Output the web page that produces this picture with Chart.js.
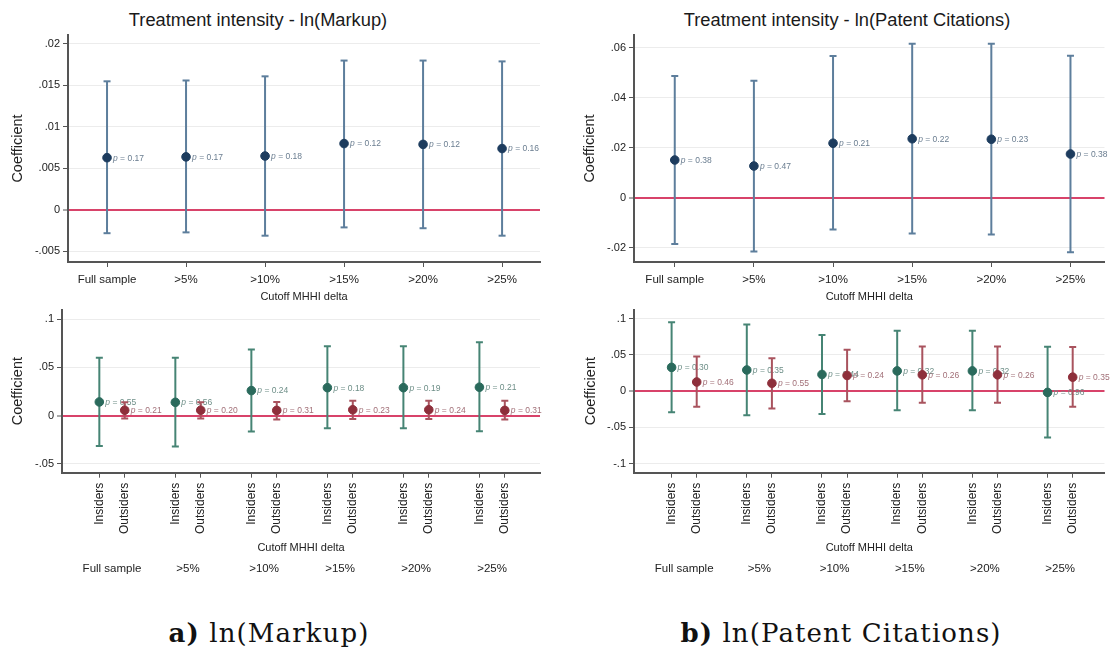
<!DOCTYPE html>
<html>
<head>
<meta charset="utf-8">
<script src="https://cdn.jsdelivr.net/npm/chart.js@4.4.1/dist/chart.umd.min.js"></script>
<style>
  body { margin: 0; background: #fff; width: 1110px; height: 651px; overflow: hidden; position: relative; font-family: "Liberation Sans", Arial, sans-serif; }
  canvas { position: absolute; }
  .titulo { position: absolute; font-size: 18.3px; color: #1a1a1a; transform: translate(-50%, -50%); white-space: nowrap; }
  .legenda { position: absolute; font-family: "DejaVu Serif", serif; font-size: 26px; color: #111; transform: translate(-50%, -50%); white-space: nowrap; letter-spacing: 1.1px; }
</style>
</head>
<body>
<div class="titulo" style="left:258px; top:20px">Treatment intensity - ln(Markup)</div>
<div class="titulo" style="left:847px; top:20px">Treatment intensity - ln(Patent Citations)</div>

<canvas id="g1" width="555" height="310" style="left:0; top:0"></canvas>
<canvas id="g2" width="555" height="310" style="left:555px; top:0"></canvas>
<canvas id="g3" width="555" height="290" style="left:0; top:300px"></canvas>
<canvas id="g4" width="555" height="290" style="left:555px; top:300px"></canvas>

<div class="legenda" style="left:269px; top:633px"><b>a)</b> ln(Markup)</div>
<div class="legenda" style="left:841px; top:633px"><b>b)</b> ln(Patent Citations)</div>

<script>
// categorias
const cutoffs = ["Full sample", ">5%", ">10%", ">15%", ">20%", ">25%"];
const grupos = ["Insiders", "Outsiders"];

// ln(Markup) - amostra toda
const markupCoef = [0.0063, 0.0064, 0.0065, 0.0080, 0.0079, 0.0074];
const markupLo   = [-0.0028, -0.0027, -0.0031, -0.0021, -0.0022, -0.0031];
const markupHi   = [0.0155, 0.0156, 0.0161, 0.0180, 0.0180, 0.0179];
const markupP    = ["0.17", "0.17", "0.18", "0.12", "0.12", "0.16"];

// ln(Patent Citations) - amostra toda
const citCoef = [0.0151, 0.0127, 0.0218, 0.0236, 0.0234, 0.0175];
const citLo   = [-0.0185, -0.0215, -0.0127, -0.0143, -0.0147, -0.0218];
const citHi   = [0.0487, 0.0468, 0.0567, 0.0616, 0.0616, 0.0568];
const citP    = ["0.38", "0.47", "0.21", "0.22", "0.23", "0.38"];

// ln(Markup) - insiders / outsiders
const mkInsCoef = [0.0142, 0.0138, 0.0260, 0.0290, 0.0290, 0.0295];
const mkInsLo   = [-0.0315, -0.0322, -0.0166, -0.0132, -0.0132, -0.0163];
const mkInsHi   = [0.0600, 0.0600, 0.0687, 0.0721, 0.0721, 0.0762];
const mkInsP    = ["0.55", "0.56", "0.24", "0.18", "0.19", "0.21"];
const mkOutCoef = [0.0056, 0.0056, 0.0054, 0.0061, 0.0061, 0.0054];
const mkOutLo   = [-0.0030, -0.0030, -0.0041, -0.0034, -0.0034, -0.0041];
const mkOutHi   = [0.0140, 0.0140, 0.0142, 0.0155, 0.0155, 0.0155];
const mkOutP    = ["0.21", "0.20", "0.31", "0.23", "0.24", "0.31"];

// ln(Patent Citations) - insiders / outsiders
const ctInsCoef = [0.0328, 0.0292, 0.0230, 0.0279, 0.0279, -0.0018];
const ctInsLo   = [-0.0293, -0.0334, -0.0316, -0.0266, -0.0266, -0.0640];
const ctInsHi   = [0.0950, 0.0919, 0.0774, 0.0833, 0.0833, 0.0612];
const ctInsP    = ["0.30", "0.35", "0.44", "0.32", "0.32", "0.96"];
const ctOutCoef = [0.0126, 0.0108, 0.0216, 0.0225, 0.0225, 0.0193];
const ctOutLo   = [-0.0216, -0.0239, -0.0140, -0.0162, -0.0162, -0.0216];
const ctOutHi   = [0.0477, 0.0455, 0.0572, 0.0617, 0.0617, 0.0608];
const ctOutP    = ["0.46", "0.55", "0.24", "0.26", "0.26", "0.35"];

// ticks do eixo y
const ticksMarkup = [-0.005, 0, 0.005, 0.01, 0.015, 0.02];
const ticksCit    = [-0.02, 0, 0.02, 0.04, 0.06];
const ticksMkGrp  = [-0.05, 0, 0.05, 0.1];
const ticksCtGrp  = [-0.1, -0.05, 0, 0.05, 0.1];

// cores
const corZero = "#d8436a";
const corGrade = "#ececec";
const corEixo = "#555";
const azul  = { ponto: "#1d3c5e", barra: "#5d7e9c", texto: "#6a7d90" };
const verde = { ponto: "#2a6a5c", barra: "#468474", texto: "#6e8f88" };
const verm  = { ponto: "#8e2f3b", barra: "#a9535e", texto: "#a27078" };

Chart.defaults.font.family = '"Liberation Sans", Arial, sans-serif';
Chart.defaults.color = "#222";

// rótulo de 0.015 -> ".015", estilo Stata
const fmtStata = v => v === 0 ? "0" : String(+v.toFixed(4)).replace(/^(-?)0\./, "$1.");

// texto "p = 0.xx" ao lado de cada ponto
const rotulosP = {
  id: "rotulosP",
  afterDatasetDraw(chart, args) {
    const ds = chart.data.datasets[args.index];
    if (!ds.pValues) return;
    const ctx = chart.ctx;
    ctx.save();
    ctx.textBaseline = "middle";
    ctx.fillStyle = ds.corTexto;
    args.meta.data.forEach((pt, i) => {
      const x = pt.x + 6, y = pt.y + 0.5;
      ctx.font = 'italic 8.5px "Liberation Sans"';
      ctx.fillText("p", x, y);
      const w = ctx.measureText("p").width;
      ctx.font = '8.5px "Liberation Sans"';
      ctx.fillText(" = " + ds.pValues[i], x + w, y);
    });
    ctx.restore();
  }
};

// intervalo de confiança: segmento lo-hi com quebra (null) entre cada um
function barras(xs, lo, hi, cor, ordem) {
  const pts = [];
  xs.forEach((x, i) => pts.push({ x, y: lo[i] }, { x, y: hi[i] }, { x, y: null }));
  return {
    data: pts, order: ordem, spanGaps: false,
    borderColor: cor, borderWidth: 2,
    pointStyle: "line", pointRadius: 3.5, pointHoverRadius: 3.5,
    pointBorderColor: cor, pointBorderWidth: 2
  };
}

function pontos(xs, coef, pv, cores, ordem) {
  return {
    data: xs.map((x, i) => ({ x, y: coef[i] })), order: ordem, showLine: false,
    pointStyle: "circle", pointRadius: 4.3, pointHoverRadius: 4.3,
    pointBackgroundColor: cores.ponto, pointBorderColor: cores.ponto, pointBorderWidth: 1,
    pValues: pv, corTexto: cores.texto
  };
}

function eixoY(min, max, valores, largura, padTitulo) {
  return {
    type: "linear", min, max,
    afterBuildTicks: s => { s.ticks = valores.map(v => ({ value: v })); },
    afterFit: s => { s.width = largura; },
    ticks: { callback: v => fmtStata(v), font: { size: 11 }, padding: 3 },
    grid: {
      color: c => (c.tick && c.tick.value === 0) ? corZero : corGrade,
      lineWidth: c => (c.tick && c.tick.value === 0) ? 2 : 1,
      tickColor: corEixo, tickLength: 5, tickWidth: 1
    },
    border: { display: true, color: corEixo, width: 2 },
    title: { display: true, text: "Coefficient", font: { size: 14.5 }, padding: { top: padTitulo, bottom: 0 } }
  };
}

function eixoX(min, max, posicoes, nomes, altura, opcTicks, padTitulo) {
  return {
    type: "linear", min, max,
    afterBuildTicks: s => { s.ticks = posicoes.map(v => ({ value: v })); },
    afterFit: s => { s.height = altura; },
    ticks: Object.assign({ callback: (v, i) => nomes[i], autoSkip: false, font: { size: 11.5 } }, opcTicks),
    grid: { drawOnChartArea: false, drawTicks: true, tickLength: 5, color: corEixo, tickColor: corEixo },
    border: { display: true, color: corEixo, width: 2 },
    title: { display: true, text: "Cutoff MHHI delta", font: { size: 11 }, padding: { top: 0, bottom: padTitulo } }
  };
}

function grafico(id, datasets, scales, padding) {
  new Chart(document.getElementById(id), {
    type: "line",
    data: { datasets },
    options: {
      responsive: false, animation: false,
      layout: { padding },
      plugins: { legend: { display: false }, tooltip: { enabled: false } },
      scales
    },
    plugins: [rotulosP]
  });
}

// painéis de cima: um ponto por cutoff
const xsTopo = cutoffs.map((_, i) => i);

grafico("g1", [
  pontos(xsTopo, markupCoef, markupP, azul, 1),
  barras(xsTopo, markupLo, markupHi, azul.barra, 2)
], {
  x: eixoX(-0.494, 5.48, xsTopo, cutoffs, 48, { maxRotation: 0, minRotation: 0, padding: 6 }, 6.4),
  y: eixoY(-0.00627, 0.02108, ticksMarkup, 68, 9.3)
}, { top: 35, right: 15, left: 0, bottom: 0 });

grafico("g2", [
  pontos(xsTopo, citCoef, citP, azul, 1),
  barras(xsTopo, citLo, citHi, azul.barra, 2)
], {
  x: eixoX(-0.515, 5.43, xsTopo, cutoffs, 48, { maxRotation: 0, minRotation: 0, padding: 6 }, 6.4),
  y: eixoY(-0.0257, 0.0651, ticksCit, 79, 26.3)
}, { top: 35, right: 1, left: 0, bottom: 0 });

// painéis de baixo: insiders e outsiders lado a lado em cada cutoff
const desloc = 0.167;
const xsIns = cutoffs.map((_, i) => i - desloc);
const xsOut = cutoffs.map((_, i) => i + desloc);
const xsGrupos = cutoffs.flatMap((_, i) => [i - desloc, i + desloc]);
const nomesGrupos = cutoffs.flatMap(() => grupos);

function eixoCutoff(min, max) {
  return {
    type: "linear", position: "bottom", min, max, weight: 1,
    afterBuildTicks: s => { s.ticks = xsTopo.map(v => ({ value: v })); },
    afterFit: s => { s.height = 32; },
    ticks: { callback: (v, i) => cutoffs[i], autoSkip: false, maxRotation: 0, minRotation: 0, padding: 3.5, font: { size: 11.5 } },
    grid: { display: false, drawTicks: false },
    border: { display: false }
  };
}

grafico("g3", [
  pontos(xsOut, mkOutCoef, mkOutP, verm, 1),
  barras(xsOut, mkOutLo, mkOutHi, verm.barra, 2),
  pontos(xsIns, mkInsCoef, mkInsP, verde, 3),
  barras(xsIns, mkInsLo, mkInsHi, verde.barra, 4)
], {
  x: eixoX(-0.658, 5.63, xsGrupos, nomesGrupos, 85.3, { maxRotation: 90, minRotation: 90, padding: 5, font: { size: 12 } }, 3.4),
  x2: eixoCutoff(-0.658, 5.63),
  y: eixoY(-0.0593, 0.1101, ticksMkGrp, 62, 9.6)
}, { top: 6, right: 15, left: 0, bottom: 0 });

grafico("g4", [
  pontos(xsOut, ctOutCoef, ctOutP, verm, 1),
  barras(xsOut, ctOutLo, ctOutHi, verm.barra, 2),
  pontos(xsIns, ctInsCoef, ctInsP, verde, 3),
  barras(xsIns, ctInsLo, ctInsHi, verde.barra, 4)
], {
  x: eixoX(-0.667, 5.59, xsGrupos, nomesGrupos, 85.3, { maxRotation: 90, minRotation: 90, padding: 5, font: { size: 12 } }, 3.4),
  x2: eixoCutoff(-0.667, 5.59),
  y: eixoY(-0.1127, 0.1126, ticksCtGrp, 79, 26.8)
}, { top: 6, right: 1, left: 0, bottom: 0 });
</script>
</body>
</html>
